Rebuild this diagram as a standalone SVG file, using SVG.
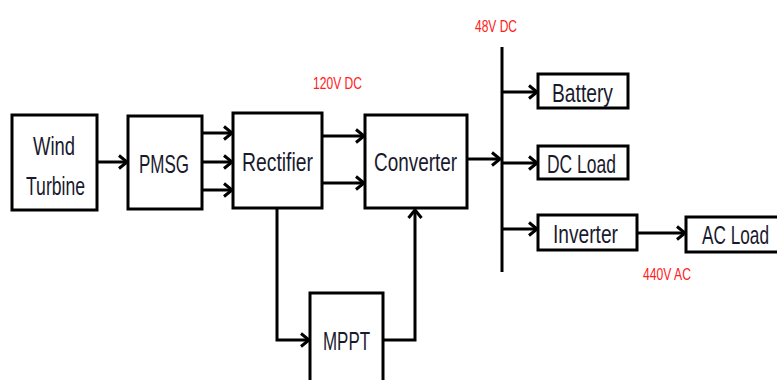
<svg xmlns="http://www.w3.org/2000/svg" width="777" height="380" viewBox="0 0 777 380">
<style>
.box{fill:#fff;stroke:#000;stroke-width:3}
.lbl{font-family:"Liberation Sans Narrow","Liberation Sans",Arial,sans-serif;font-size:26px;fill:#1a1a2e}
.red{font-family:"Liberation Sans Narrow","Liberation Sans",Arial,sans-serif;font-size:17px;fill:#ff2020}
.w{fill:none;stroke:#000;stroke-width:3}
</style>
<defs>
<marker id="ah" markerUnits="userSpaceOnUse" markerWidth="14" markerHeight="16" refX="10" refY="8" orient="auto" viewBox="0 0 14 16">
<path d="M2,1.5 L10,8 L2,14.5" fill="none" stroke="#000" stroke-width="3"/>
</marker>
</defs>
<rect width="777" height="380" fill="#fff"/>
<g id="connectors">
<line class="w" x1="97" y1="162" x2="127" y2="162" marker-end="url(#ah)"/>
<line class="w" x1="202" y1="133" x2="232" y2="133" marker-end="url(#ah)"/>
<line class="w" x1="202" y1="162" x2="232" y2="162" marker-end="url(#ah)"/>
<line class="w" x1="202" y1="190" x2="232" y2="190" marker-end="url(#ah)"/>
<line class="w" x1="322" y1="136" x2="364" y2="136" marker-end="url(#ah)"/>
<line class="w" x1="322" y1="183" x2="364" y2="183" marker-end="url(#ah)"/>
<line class="w" x1="467" y1="159" x2="500" y2="159" marker-end="url(#ah)"/>
<line class="w" x1="502" y1="47" x2="502" y2="272" stroke-width="4"/>
<line class="w" x1="502" y1="92" x2="537" y2="92" marker-end="url(#ah)"/>
<line class="w" x1="502" y1="163" x2="537" y2="163" marker-end="url(#ah)"/>
<line class="w" x1="502" y1="229" x2="537" y2="229" marker-end="url(#ah)"/>
<line class="w" x1="637" y1="233" x2="685" y2="233" marker-end="url(#ah)"/>
<polyline class="w" points="277,208 277,340 309,340" marker-end="url(#ah)"/>
<polyline class="w" points="383,340 415,340 415,210" marker-end="url(#ah)"/>
</g>
<g id="wind-turbine">
<rect class="box" x="12" y="115" width="85" height="95"/>
<text class="lbl" x="33" y="155" textLength="42" lengthAdjust="spacingAndGlyphs">Wind</text>
<text class="lbl" x="26" y="195" textLength="59" lengthAdjust="spacingAndGlyphs">Turbine</text>
</g>
<g id="pmsg">
<rect class="box" x="128" y="116" width="74" height="93"/>
<text class="lbl" x="139" y="173" textLength="50" lengthAdjust="spacingAndGlyphs">PMSG</text>
</g>
<g id="rectifier">
<rect class="box" x="233" y="113" width="89" height="95"/>
<text class="lbl" x="242" y="171" textLength="71" lengthAdjust="spacingAndGlyphs">Rectifier</text>
</g>
<g id="converter">
<rect class="box" x="365" y="115" width="102" height="93"/>
<text class="lbl" x="374" y="171" textLength="83" lengthAdjust="spacingAndGlyphs">Converter</text>
</g>
<g id="battery">
<rect class="box" x="538" y="74" width="90" height="34"/>
<text class="lbl" x="552" y="102" textLength="61" lengthAdjust="spacingAndGlyphs">Battery</text>
</g>
<g id="dc-load">
<rect class="box" x="538" y="146" width="90" height="33"/>
<text class="lbl" x="547" y="173" textLength="69" lengthAdjust="spacingAndGlyphs">DC Load</text>
</g>
<g id="inverter">
<rect class="box" x="538" y="215" width="99" height="35"/>
<text class="lbl" x="553" y="243" textLength="65" lengthAdjust="spacingAndGlyphs">Inverter</text>
</g>
<g id="ac-load">
<rect class="box" x="686" y="217" width="100" height="35"/>
<text class="lbl" x="702" y="244" textLength="67" lengthAdjust="spacingAndGlyphs">AC Load</text>
</g>
<g id="mppt">
<rect class="box" x="310" y="293" width="73" height="100"/>
<text class="lbl" x="323" y="350" textLength="47" lengthAdjust="spacingAndGlyphs">MPPT</text>
</g>
<g id="labels">
<text class="red" x="313" y="89" textLength="49" lengthAdjust="spacingAndGlyphs">120V DC</text>
<text class="red" x="475" y="32" textLength="42" lengthAdjust="spacingAndGlyphs">48V DC</text>
<text class="red" x="643" y="280" textLength="48" lengthAdjust="spacingAndGlyphs">440V AC</text>
</g>
</svg>
